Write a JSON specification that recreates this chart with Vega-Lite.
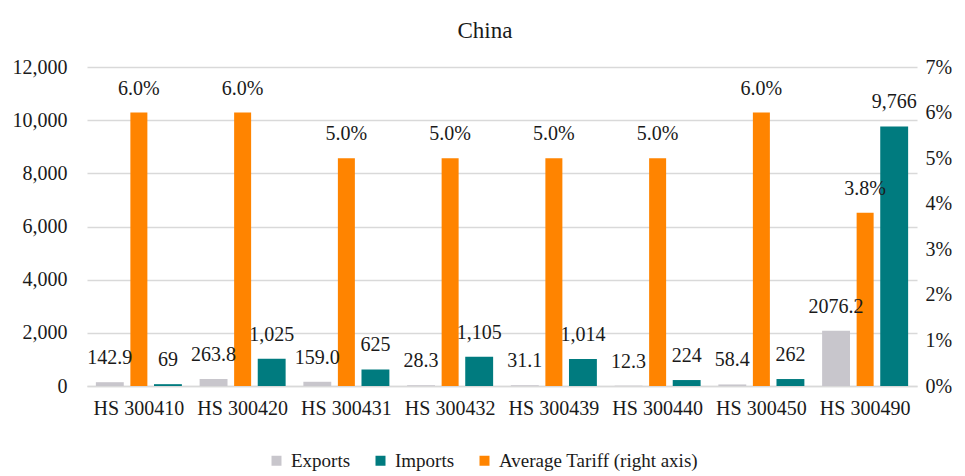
{
  "$schema": "https://vega.github.io/schema/vega-lite/v6.json",
  "width": 830,
  "height": 319,
  "autosize": {"type": "none"},
  "padding": {"left": 87, "top": 67, "right": 48, "bottom": 90},
  "background": "white",
  "config": {
    "font": "Liberation Serif, serif",
    "view": {"stroke": null},
    "text": {"font": "Liberation Serif, serif", "fontSize": 20, "color": "#1a1a1a"}
  },
  "title": {
    "text": "China",
    "font": "Liberation Serif, serif",
    "fontSize": 23,
    "fontWeight": "normal",
    "color": "#1a1a1a",
    "anchor": "middle",
    "dx": -17,
    "offset": 14
  },
  "datasets": {
    "trade": [
      {"code": "HS 300410", "series": "Exports", "value": 142.9},
      {"code": "HS 300420", "series": "Exports", "value": 263.8},
      {"code": "HS 300431", "series": "Exports", "value": 159.0},
      {"code": "HS 300432", "series": "Exports", "value": 28.3},
      {"code": "HS 300439", "series": "Exports", "value": 31.1},
      {"code": "HS 300440", "series": "Exports", "value": 12.3},
      {"code": "HS 300450", "series": "Exports", "value": 58.4},
      {"code": "HS 300490", "series": "Exports", "value": 2076.2},
      {"code": "HS 300410", "series": "Imports", "value": 69},
      {"code": "HS 300420", "series": "Imports", "value": 1025},
      {"code": "HS 300431", "series": "Imports", "value": 625},
      {"code": "HS 300432", "series": "Imports", "value": 1105},
      {"code": "HS 300439", "series": "Imports", "value": 1014},
      {"code": "HS 300440", "series": "Imports", "value": 224},
      {"code": "HS 300450", "series": "Imports", "value": 262},
      {"code": "HS 300490", "series": "Imports", "value": 9766}
    ],
    "tariff": [
      {"code": "HS 300410", "series": "Average Tariff (right axis)", "value": 0.06},
      {"code": "HS 300420", "series": "Average Tariff (right axis)", "value": 0.06},
      {"code": "HS 300431", "series": "Average Tariff (right axis)", "value": 0.05},
      {"code": "HS 300432", "series": "Average Tariff (right axis)", "value": 0.05},
      {"code": "HS 300439", "series": "Average Tariff (right axis)", "value": 0.05},
      {"code": "HS 300440", "series": "Average Tariff (right axis)", "value": 0.05},
      {"code": "HS 300450", "series": "Average Tariff (right axis)", "value": 0.06},
      {"code": "HS 300490", "series": "Average Tariff (right axis)", "value": 0.038}
    ]
  },
  "encoding": {
    "x": {
      "field": "code",
      "type": "nominal",
      "sort": null,
      "scale": {"paddingInner": 0.171, "paddingOuter": 0.0855},
      "axis": {
        "title": null,
        "labelAngle": 0,
        "labelFont": "Liberation Serif, serif",
        "labelFontSize": 20,
        "labelColor": "#1a1a1a",
        "labelPadding": 12,
        "labelLimit": 200,
        "ticks": false,
        "domain": true,
        "domainColor": "#D9D9D9",
        "domainWidth": 1.5,
        "grid": false
      }
    }
  },
  "layer": [
    {
      "data": {"name": "trade"},
      "mark": {"type": "bar"},
      "encoding": {
        "y": {
          "field": "value",
          "type": "quantitative",
          "scale": {"domain": [0, 12000], "nice": false},
          "axis": {
            "title": null,
            "values": [0, 2000, 4000, 6000, 8000, 10000, 12000],
            "format": ",.0f",
            "labelFont": "Liberation Serif, serif",
            "labelFontSize": 20,
            "labelColor": "#1a1a1a",
            "labelPadding": 20,
            "ticks": false,
            "domain": false,
            "grid": true,
            "gridColor": "#D9D9D9",
            "gridWidth": 1.5
          }
        },
        "xOffset": {
          "field": "series",
          "type": "nominal",
          "scale": {"domain": ["Exports", "Gap", "Imports"], "paddingInner": 0.04, "paddingOuter": 0}
        },
        "color": {
          "field": "series",
          "type": "nominal",
          "scale": {
            "domain": ["Exports", "Imports", "Average Tariff (right axis)"],
            "range": ["#C8C6CC", "#007B7F", "#FF8400"]
          },
          "legend": {
            "title": null,
            "orient": "none",
            "direction": "horizontal",
            "legendX": 180,
            "legendY": 384,
            "symbolType": "square",
            "symbolSize": 100,
            "symbolStrokeWidth": 0,
            "labelFont": "Liberation Serif, serif",
            "labelFontSize": 19,
            "labelColor": "#1a1a1a",
            "labelOffset": 5,
            "labelLimit": 400,
            "columnPadding": 20
          }
        }
      }
    },
    {
      "data": {"name": "tariff"},
      "encoding": {
        "y": {
          "field": "value",
          "type": "quantitative",
          "scale": {"domain": [0, 0.07], "nice": false},
          "axis": {
            "title": null,
            "orient": "right",
            "values": [0, 0.01, 0.02, 0.03, 0.04, 0.05, 0.06, 0.07],
            "format": ".0%",
            "labelFont": "Liberation Serif, serif",
            "labelFontSize": 20,
            "labelColor": "#1a1a1a",
            "labelPadding": 8,
            "ticks": false,
            "domain": false,
            "grid": false
          }
        }
      },
      "layer": [
        {
          "mark": {"type": "bar", "width": 17},
          "encoding": {
            "color": {"field": "series", "type": "nominal"}
          }
        },
        {
          "mark": {"type": "text", "baseline": "alphabetic", "dy": -18},
          "encoding": {"text": {"field": "value", "type": "quantitative", "format": ".1%"}}
        }
      ]
    },
    {
      "data": {"name": "trade"},
      "encoding": {
        "y": {
          "field": "value",
          "type": "quantitative",
          "scale": {"domain": [0, 12000], "nice": false},
          "axis": null
        },
        "xOffset": {
          "field": "series",
          "type": "nominal",
          "scale": {"domain": ["Exports", "Gap", "Imports"], "paddingInner": 0.04, "paddingOuter": 0}
        }
      },
      "layer": [
        {
          "transform": [{"filter": "datum.series == 'Exports'"}],
          "mark": {"type": "text", "baseline": "alphabetic", "dy": -18},
          "encoding": {"text": {"field": "value", "type": "quantitative", "format": ".1f"}}
        },
        {
          "transform": [{"filter": "datum.series == 'Imports'"}],
          "mark": {"type": "text", "baseline": "alphabetic", "dy": -18},
          "encoding": {"text": {"field": "value", "type": "quantitative", "format": ",.0f"}}
        }
      ]
    }
  ],
  "resolve": {"scale": {"y": "independent"}}
}
